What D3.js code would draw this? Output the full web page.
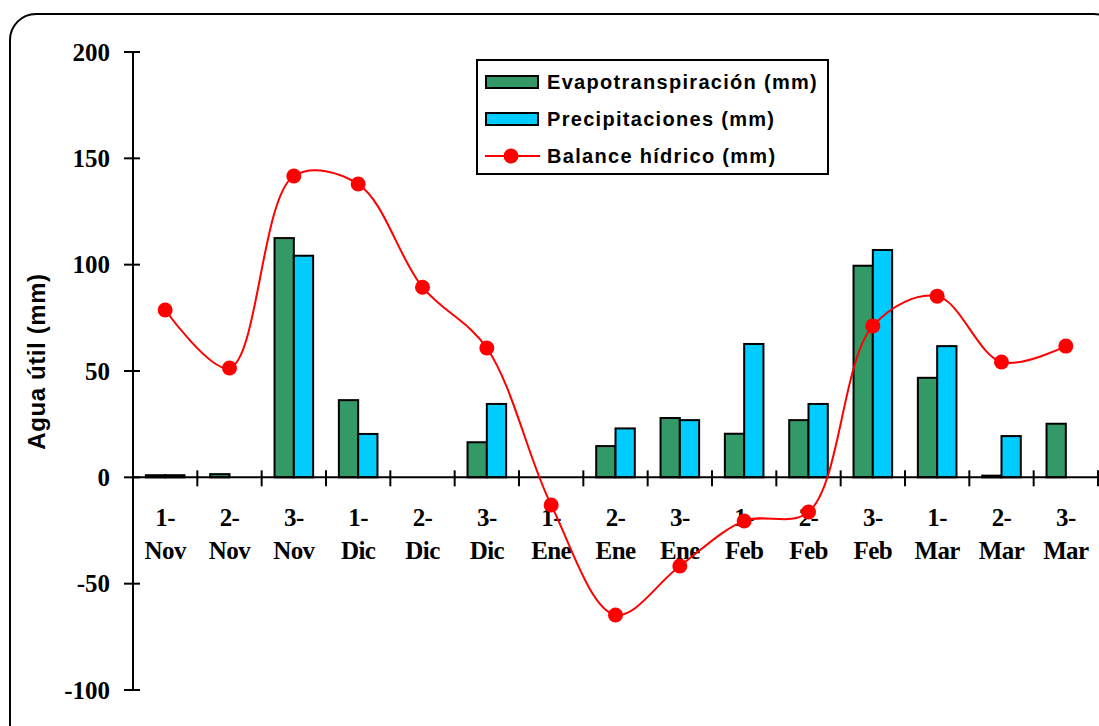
<!DOCTYPE html>
<html>
<head>
<meta charset="utf-8">
<script src="https://cdn.jsdelivr.net/npm/d3@7"></script>
<style>
  html, body { margin: 0; padding: 0; background: #fff; }
  svg { display: block; }
</style>
</head>
<body>
<svg id="chart" width="1099" height="726"></svg>
<script>
// Ten-day periods (decades) from November to March
const categories = ["1-Nov", "2-Nov", "3-Nov", "1-Dic", "2-Dic", "3-Dic", "1-Ene", "2-Ene",
                    "3-Ene", "1-Feb", "2-Feb", "3-Feb", "1-Mar", "2-Mar", "3-Mar"];
const evapotranspiracion = [1, 1.5, 112.5, 36.3, 0, 16.5, 0, 14.7, 27.9, 20.5, 26.9, 99.5, 46.8, 0.8, 25.2];
const precipitaciones   = [1, 0, 104.2, 20.4, 0, 34.5, 0, 23, 26.9, 62.7, 34.5, 106.9, 61.7, 19.4, 0];
const balanceHidrico    = [78.7, 51.4, 141.7, 137.9, 89.4, 60.8, -13, -64.7, -41.7, -20.5, -16.3, 71.2, 85.2, 54.2, 61.7];
const yTicks = [-100, -50, 0, 50, 100, 150, 200];

const seriesNames = ["Evapotranspiración (mm)", "Precipitaciones (mm)", "Balance hídrico (mm)"];
const barColors = ["#339966", "#00CCFF"];
const lineColor = "#FF0000";

const svg = d3.select("#chart");

// Rounded frame around the chart area
svg.append("rect")
  .attr("x", 10).attr("y", 14)
  .attr("width", 1110).attr("height", 740)
  .attr("rx", 26).attr("ry", 26)
  .attr("fill", "none").attr("stroke", "#000").attr("stroke-width", 2);

const plot = { left: 133, right: 1098, top: 52, bottom: 690 };

const x = d3.scaleBand()
  .domain(categories)
  .range([plot.left, plot.right])
  .paddingInner(0.4)
  .paddingOuter(0.2);

const xSub = d3.scaleBand()
  .domain([0, 1])
  .range([0, x.bandwidth()]);

const y = d3.scaleLinear()
  .domain([-100, 200])
  .range([plot.bottom, plot.top]);

const serif = "'Liberation Serif', 'Times New Roman', serif";
const sans = "'Liberation Sans', Arial, sans-serif";

// Bars
const barSeries = [evapotranspiracion, precipitaciones];
barSeries.forEach((vals, si) => {
  svg.append("g").selectAll("rect")
    .data(vals)
    .join("rect")
    .attr("x", (d, i) => x(categories[i]) + xSub(si))
    .attr("y", d => y(Math.max(d, 0)))
    .attr("width", xSub.bandwidth())
    .attr("height", d => Math.abs(y(d) - y(0)))
    .attr("fill", barColors[si])
    .attr("stroke", "#000")
    .attr("stroke-width", 2);
});

// Y axis
const yAxis = d3.axisLeft(y).tickValues(yTicks).tickSize(0).tickPadding(0);
const gy = svg.append("g").attr("transform", `translate(${plot.left},0)`).call(yAxis);
gy.select(".domain").remove();
gy.selectAll(".tick text").remove();
svg.append("line")
  .attr("x1", plot.left).attr("x2", plot.left)
  .attr("y1", y(200)).attr("y2", y(-100))
  .attr("stroke", "#000").attr("stroke-width", 2);
svg.append("g").selectAll("line")
  .data(yTicks).join("line")
  .attr("x1", plot.left - 9).attr("x2", plot.left + 7)
  .attr("y1", d => y(d)).attr("y2", d => y(d))
  .attr("stroke", "#000").attr("stroke-width", 2);
svg.append("g").selectAll("text")
  .data(yTicks).join("text")
  .attr("x", 110)
  .attr("y", d => y(d))
  .attr("dy", "0.35em")
  .attr("text-anchor", "end")
  .attr("font-family", serif)
  .attr("font-weight", "bold")
  .attr("font-size", 25)
  .text(d => d);

// X axis along zero
svg.append("line")
  .attr("x1", plot.left).attr("x2", plot.right)
  .attr("y1", y(0)).attr("y2", y(0))
  .attr("stroke", "#000").attr("stroke-width", 2);
const boundaries = categories.map(c => x(c) - x.step() * x.paddingInner() / 2).slice(1)
  .concat([plot.right]);
svg.append("g").selectAll("line")
  .data(boundaries).join("line")
  .attr("x1", d => d).attr("x2", d => d)
  .attr("y1", y(0) - 7).attr("y2", y(0) + 9)
  .attr("stroke", "#000").attr("stroke-width", 2);

const xLabels = svg.append("g").selectAll("text")
  .data(categories).join("text")
  .attr("text-anchor", "middle")
  .attr("font-family", serif)
  .attr("font-weight", "bold")
  .attr("font-size", 25)
  .attr("letter-spacing", -0.6);
xLabels.append("tspan")
  .attr("x", d => x(d) + x.bandwidth() / 2)
  .attr("y", 526)
  .text(d => d.split("-")[0] + "-");
xLabels.append("tspan")
  .attr("x", d => x(d) + x.bandwidth() / 2)
  .attr("y", 559)
  .text(d => d.split("-")[1]);

// Y axis title
svg.append("text")
  .attr("transform", `translate(45,${(273 + 450) / 2}) rotate(-90)`)
  .attr("text-anchor", "middle")
  .attr("font-family", sans)
  .attr("font-weight", "bold")
  .attr("font-size", 24)
  .attr("letter-spacing", 0.6)
  .text("Agua útil (mm)");

// Water balance: smoothed line with round markers
const cx = (d, i) => x(categories[i]) + x.bandwidth() / 2;
const line = d3.line()
  .x(cx)
  .y(d => y(d))
  .curve(d3.curveCatmullRom.alpha(0.5));
svg.append("path")
  .datum(balanceHidrico)
  .attr("d", line)
  .attr("fill", "none")
  .attr("stroke", lineColor)
  .attr("stroke-width", 2);
svg.append("g").selectAll("circle")
  .data(balanceHidrico).join("circle")
  .attr("cx", cx)
  .attr("cy", d => y(d))
  .attr("r", 7.5)
  .attr("fill", lineColor);

// Legend
const legend = svg.append("g");
legend.append("rect")
  .attr("x", 477).attr("y", 60)
  .attr("width", 351).attr("height", 114)
  .attr("fill", "#fff").attr("stroke", "#000").attr("stroke-width", 2);
const rowY = [82, 119, 156];
[0, 1].forEach(i => {
  legend.append("rect")
    .attr("x", 486).attr("y", rowY[i] - 6)
    .attr("width", 52).attr("height", 12)
    .attr("fill", barColors[i]).attr("stroke", "#000").attr("stroke-width", 2);
});
legend.append("line")
  .attr("x1", 485).attr("x2", 540)
  .attr("y1", rowY[2]).attr("y2", rowY[2])
  .attr("stroke", lineColor).attr("stroke-width", 2);
legend.append("circle")
  .attr("cx", 511).attr("cy", rowY[2]).attr("r", 7.5).attr("fill", lineColor);
legend.selectAll("text.lab")
  .data(seriesNames).join("text")
  .attr("class", "lab")
  .attr("x", 547)
  .attr("y", (d, i) => rowY[i])
  .attr("dy", "0.35em")
  .attr("font-family", sans)
  .attr("font-weight", "bold")
  .attr("font-size", 20)
  .attr("letter-spacing", 1.3)
  .text(d => d);
</script>
</body>
</html>
